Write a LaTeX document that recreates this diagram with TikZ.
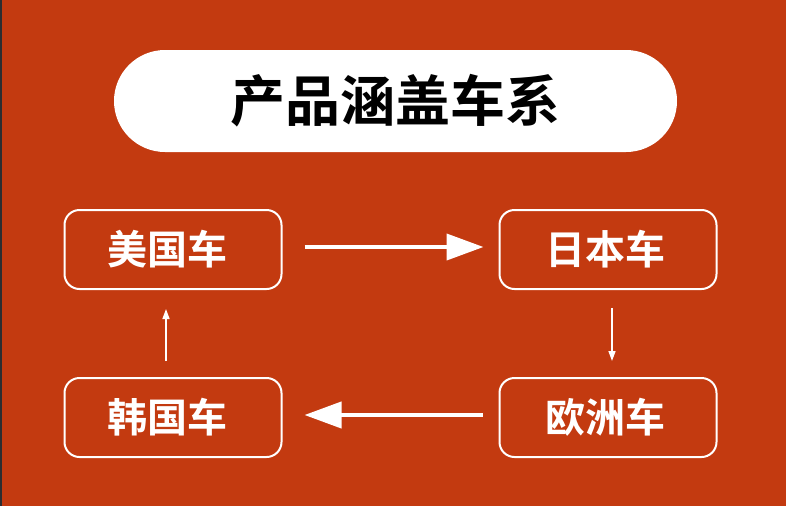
\documentclass[tikz,border=0pt]{standalone}
\usepackage{fontspec}
\newfontfamily\cjk{Noto Sans CJK SC}[BoldFont={Noto Sans CJK SC Bold}]
\usetikzlibrary{arrows.meta}
\definecolor{bgred}{RGB}{195,58,16}
\definecolor{edge}{RGB}{45,45,48}

\begin{document}
\begin{tikzpicture}[x=1pt,y=-1pt]
						\tikzstyle{carbox}=[draw=white, line width=2pt, rounded corners=15pt, minimum width=217pt, minimum height=79pt, inner sep=0pt, text=white, font=\cjk\bfseries\fontsize{40}{40}\selectfont]
						\tikzstyle{bigarrow}=[white, line width=4pt, -{Triangle[length=37pt,width=26pt]}]
						\tikzstyle{smallarrow}=[white, line width=1.5pt, -{Triangle[length=10pt,width=7pt]}]
						\fill[bgred] (0,0) rectangle (786,506);
						\fill[edge] (0,0) rectangle (1.5,506);
						\useasboundingbox (0,0) rectangle (786,506);
						\fill[white, rounded corners=51pt] (114,50) rectangle (677,152);
						\draw (395.5,101) node (title) [font=\cjk\bfseries\fontsize{55}{55}\selectfont] {产品涵盖车系};
						\draw (173,249.5) node (usa) [carbox] {\hspace*{-11pt}美国车};
						\draw (608,249.5) node (japan) [carbox] {\hspace*{-5pt}日本车};
						\draw (173,417.5) node (korea) [carbox] {\hspace*{-11pt}韩国车};
						\draw (608,417.5) node (europe) [carbox] {\hspace*{-5pt}欧洲车};
						\draw[bigarrow, shorten <=22pt, shorten >=15pt] ([yshift=2.5pt]usa.east) -- ([yshift=2.5pt]japan.west);
						\draw[smallarrow, shorten <=18pt, shorten >=16pt] ([xshift=4pt]japan.south) -- ([xshift=4pt]europe.north);
						\draw[bigarrow, shorten <=16pt, shorten >=22pt] ([yshift=2.5pt]europe.west) -- ([yshift=2.5pt]korea.east);
						\draw[smallarrow, shorten <=16pt, shorten >=19pt] ([xshift=-7pt]korea.north) -- ([xshift=-7pt]usa.south);
					\end{tikzpicture}
\end{document}
